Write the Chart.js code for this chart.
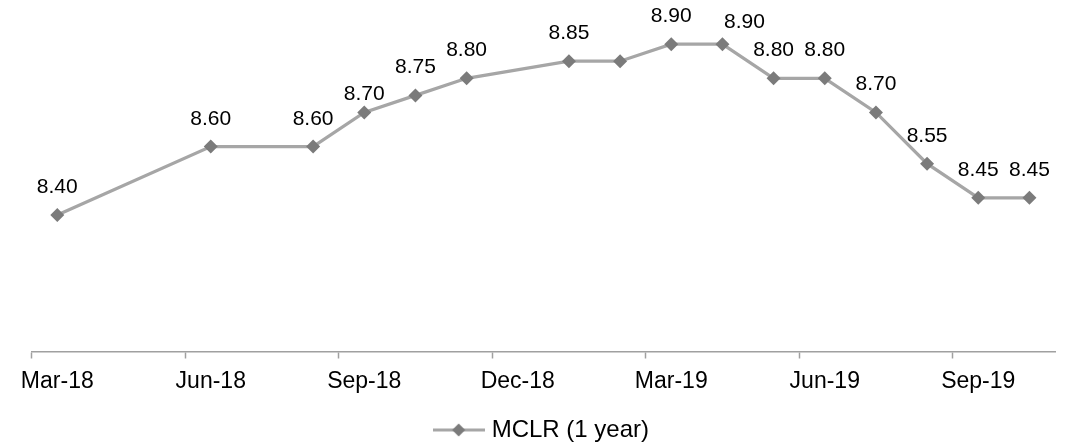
<!DOCTYPE html>
<html>
<head>
<meta charset="utf-8">
<script src="https://cdn.jsdelivr.net/npm/chart.js@4.4.1/dist/chart.umd.min.js"></script>
<style>
  html, body { margin: 0; padding: 0; background: #ffffff; }
  canvas { display: block; }
</style>
</head>
<body>
<canvas id="chart" width="1079" height="445"></canvas>
<script>
// Monthly categories on the date axis (empty months have no reading)
const months = ['Mar-18','Apr-18','May-18','Jun-18','Jul-18','Aug-18','Sep-18','Oct-18','Nov-18','Dec-18',
                'Jan-19','Feb-19','Mar-19','Apr-19','May-19','Jun-19','Jul-19','Aug-19','Sep-19','Oct-19'];
// 1-year MCLR, per cent
const mclr = [8.40, null, null, 8.60, null, 8.60, 8.70, 8.75, 8.80, null,
              8.85, 8.85, 8.90, 8.90, 8.80, 8.80, 8.70, 8.55, 8.45, 8.45];
// Quarterly labels shown on the axis
const tickLabels = ['Mar-18','Jun-18','Sep-18','Dec-18','Mar-19','Jun-19','Sep-19'];
const seriesName = 'MCLR (1 year)';

const FONT = "'Liberation Sans', Arial, Helvetica, sans-serif";
const LINE_COLOR = '#a6a6a6';
const MARKER_COLOR = '#7b7b7b';
const AXIS_COLOR = '#a0a0a0';

// Legend icon: short line with a diamond marker in the middle
function legendIcon() {
  const c = document.createElement('canvas');
  c.width = 52; c.height = 16;
  const g = c.getContext('2d');
  g.strokeStyle = LINE_COLOR;
  g.lineWidth = 3;
  g.beginPath(); g.moveTo(0, 8); g.lineTo(52, 8); g.stroke();
  g.fillStyle = MARKER_COLOR;
  g.beginPath();
  g.moveTo(26 - 6.5, 8); g.lineTo(26, 8 - 6.5); g.lineTo(26 + 6.5, 8); g.lineTo(26, 8 + 6.5);
  g.closePath(); g.fill();
  return c;
}

// Value labels above the markers
const valueLabels = {
  id: 'valueLabels',
  afterDatasetsDraw(chart, args, opts) {
    const ctx = chart.ctx;
    const meta = chart.getDatasetMeta(0);
    const values = chart.data.datasets[0].data;
    ctx.save();
    ctx.font = opts.font;
    ctx.fillStyle = opts.color;
    ctx.textAlign = 'center';
    ctx.textBaseline = 'alphabetic';
    meta.data.forEach((pt, i) => {
      const v = values[i];
      if (v === null || opts.hidden.includes(i)) return;
      const n = opts.nudge[i] || [0, 0];
      ctx.fillText(v.toFixed(2), pt.x + n[0], pt.y - opts.gap + n[1]);
    });
    ctx.restore();
  }
};

new Chart(document.getElementById('chart'), {
  type: 'line',
  data: {
    labels: months,
    datasets: [{
      label: seriesName,
      data: mclr,
      spanGaps: true,
      borderColor: LINE_COLOR,
      borderWidth: 3.25,
      tension: 0,
      pointStyle: 'rectRot',
      pointRadius: 7,
      pointBorderWidth: 0,
      pointBackgroundColor: MARKER_COLOR,
      pointBorderColor: MARKER_COLOR
    }]
  },
  options: {
    responsive: false,
    animation: false,
    devicePixelRatio: 1,
    layout: { padding: { left: 31.7, right: 24, top: 10, bottom: -7 } },
    scales: {
      x: {
        type: 'category',
        offset: true,
        grid: {
          offset: true,
          drawOnChartArea: false,
          drawTicks: true,
          tickLength: 7,
          tickWidth: 1.5,
          tickColor: (ctx) => (ctx.index !== undefined && ctx.index % 3 === 0) ? AXIS_COLOR : 'rgba(0,0,0,0)'
        },
        border: { display: true, color: AXIS_COLOR, width: 1.5 },
        ticks: {
          autoSkip: false,
          maxRotation: 0,
          minRotation: 0,
          padding: 9,
          color: '#000000',
          font: { family: FONT, size: 23 },
          callback: (v, i) => tickLabels.includes(months[i]) ? months[i] : ''
        },
        afterFit: (scale) => { scale.height = 56.5; }
      },
      y: {
        display: false,
        min: 8.0,
        max: 9.0
      }
    },
    plugins: {
      legend: {
        display: true,
        position: 'bottom',
        labels: {
          usePointStyle: true,
          pointStyleWidth: 42,
          padding: 10,
          color: '#000000',
          font: { family: FONT, size: 24 },
          generateLabels: (chart) => chart.data.datasets.map((ds, i) => ({
            text: ds.label,
            pointStyle: legendIcon(),
            fillStyle: MARKER_COLOR,
            strokeStyle: LINE_COLOR,
            lineWidth: 0,
            hidden: false,
            datasetIndex: i,
            fontColor: '#000000'
          }))
        }
      },
      tooltip: { enabled: false },
      valueLabels: {
        font: "21px " + FONT,
        color: '#000000',
        gap: 22,
        hidden: [11],
        nudge: { 6: [0, 10], 13: [22, 6] }
      }
    }
  },
  plugins: [valueLabels]
});
</script>
</body>
</html>
